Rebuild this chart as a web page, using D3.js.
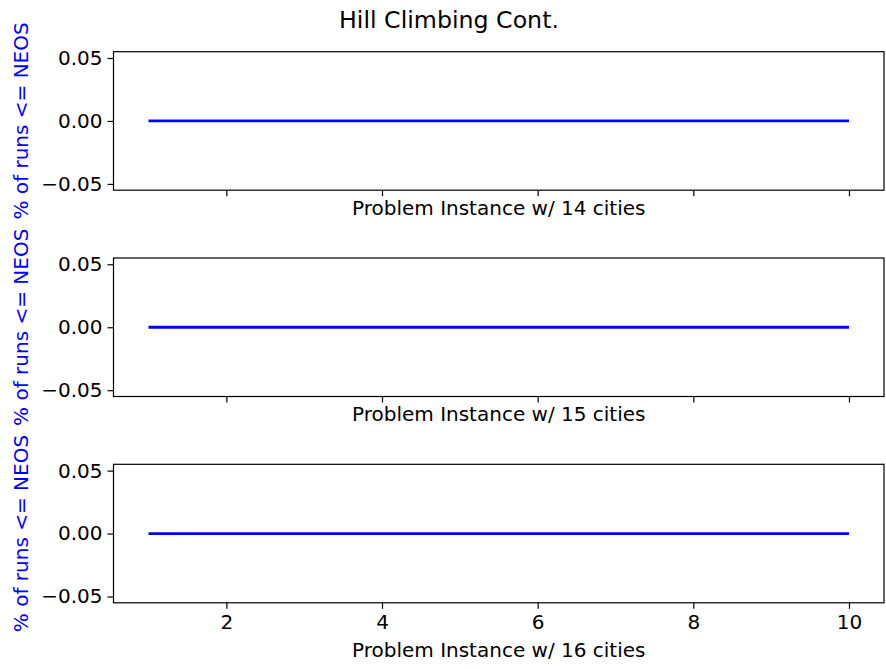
<!DOCTYPE html>
<html>
<head>
<meta charset="utf-8">
<script src="https://cdn.jsdelivr.net/npm/d3@7"></script>
<style>
  body { margin: 0; background: #fff; }
  svg text { font-family: "DejaVu Sans", sans-serif; }
</style>
</head>
<body>
<div id="chart"></div>
<script>
// data
var cityCounts = [14, 15, 16]
var instances = [1, 2, 3, 4, 5, 6, 7, 8, 9, 10]
var pctRuns = [
	[0, 0, 0, 0, 0, 0, 0, 0, 0, 0],
	[0, 0, 0, 0, 0, 0, 0, 0, 0, 0],
	[0, 0, 0, 0, 0, 0, 0, 0, 0, 0]
]
var xTicks = [2, 4, 6, 8, 10]
var yTicks = [-0.05, 0, 0.05]

var W = 886, H = 669
var left = 113.5, right = 884
var panelTops = [51.7, 258, 464.3]
var panelH = 138.5
var FS = 20

var svg = d3.select("#chart").append("svg")
	.attr("width", W).attr("height", H)

svg.append("text")
	.attr("x", 449).attr("y", 28)
	.attr("text-anchor", "middle")
	.attr("font-size", 23.7)
	.text("Hill Climbing Cont.")

var x = d3.scaleLinear().domain([0.55, 10.45]).range([left, right])

cityCounts.forEach(function(n, i) {
	var top = panelTops[i]
	var y = d3.scaleLinear().domain([-0.055, 0.055]).range([top + panelH, top])
	var g = svg.append("g")
	var last = i == cityCounts.length - 1

	// y axis
	var ya = g.append("g")
		.attr("transform", "translate(" + left + ",0)")
		.call(d3.axisLeft(y).tickValues(yTicks).tickSize(6).tickPadding(5)
			.tickFormat(function(d){ return d3.format(".2f")(d).replace("-", "\u2212") }))
	ya.select(".domain").remove()
	ya.selectAll("line").attr("stroke", "#000").attr("stroke-width", 1.2)
	ya.selectAll("text").attr("font-size", FS).attr("fill", "#000")
		.style("font-family", "DejaVu Sans")

	// x axis
	var xa = g.append("g")
		.attr("transform", "translate(0," + (top + panelH) + ")")
		.call(d3.axisBottom(x).tickValues(xTicks).tickSize(6).tickPadding(6)
			.tickFormat(last ? d3.format("d") : function(){ return "" }))
	xa.select(".domain").remove()
	xa.selectAll("line").attr("stroke", "#000").attr("stroke-width", 1.2)
	xa.selectAll("text").attr("font-size", FS).attr("fill", "#000")
		.style("font-family", "DejaVu Sans")

	// line
	var line = d3.line()
		.x(function(d, k){ return x(instances[k]) })
		.y(function(d){ return y(d) })
	g.append("path")
		.datum(pctRuns[i])
		.attr("d", line)
		.attr("fill", "none")
		.attr("stroke", "#0000ff")
		.attr("stroke-width", 2.8)

	// frame
	g.append("rect")
		.attr("x", left).attr("y", top)
		.attr("width", right - left).attr("height", panelH)
		.attr("fill", "none").attr("stroke", "#000").attr("stroke-width", 1.2)

	// labels
	g.append("text")
		.attr("x", (left + right) / 2)
		.attr("y", top + panelH + (last ? 54.5 : 24.5))
		.attr("text-anchor", "middle")
		.attr("font-size", FS)
		.text("Problem Instance w/ " + n + " cities")

	g.append("text")
		.attr("transform", "translate(28," + (top + panelH / 2) + ") rotate(-90)")
		.attr("text-anchor", "middle")
		.attr("font-size", FS)
		.attr("fill", "#0000ff")
		.text("% of runs <= NEOS")
})
</script>
</body>
</html>
